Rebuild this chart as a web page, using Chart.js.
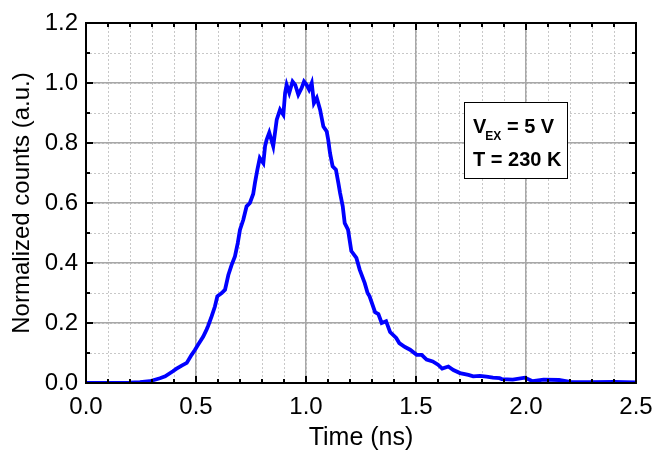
<!DOCTYPE html>
<html>
<head>
<meta charset="utf-8">
<script src="https://cdn.jsdelivr.net/npm/chart.js@4.4.1/dist/chart.umd.min.js"></script>
<style>
  html, body { margin: 0; padding: 0; background: #fff; }
  #wrap { width: 654px; height: 460px; position: relative; }
</style>
</head>
<body>
<div id="wrap"><canvas id="myChart" width="654" height="460"></canvas></div>
<script>
// data
let time_ns = [0.00, 0.10, 0.20, 0.245, 0.29, 0.336, 0.36, 0.395, 0.41, 0.435, 0.458, 0.48, 0.495, 0.51, 0.533,
  0.548, 0.555, 0.571, 0.586, 0.597, 0.617, 0.632, 0.647, 0.662, 0.677, 0.69, 0.70, 0.715, 0.73, 0.745,
  0.76, 0.768, 0.779, 0.79, 0.806, 0.814, 0.821, 0.833, 0.851, 0.867, 0.882, 0.897, 0.905, 0.912, 0.924,
  0.939, 0.951, 0.965, 0.980, 0.991, 1.003, 1.014, 1.026, 1.036, 1.049, 1.064, 1.079, 1.094, 1.101, 1.109,
  1.121, 1.136, 1.147, 1.155, 1.167, 1.176, 1.191, 1.206, 1.229, 1.244, 1.267, 1.280, 1.289, 1.314, 1.329,
  1.344, 1.364, 1.382, 1.41, 1.424, 1.45, 1.473, 1.503, 1.526, 1.548, 1.576, 1.60, 1.619, 1.647, 1.67,
  1.70, 1.738, 1.76, 1.79, 1.82, 1.85, 1.88, 1.89, 1.94, 1.995, 2.03, 2.08, 2.15, 2.20, 2.30, 2.40, 2.50];
let counts = [0.000, 0.000, 0.001, 0.003, 0.006, 0.016, 0.022, 0.039, 0.047, 0.058, 0.067, 0.094, 0.110, 0.128, 0.155,
  0.178, 0.190, 0.222, 0.255, 0.289, 0.300, 0.311, 0.360, 0.394, 0.422, 0.467, 0.511, 0.544, 0.589, 0.600,
  0.630, 0.667, 0.711, 0.750, 0.733, 0.790, 0.811, 0.835, 0.789, 0.878, 0.911, 0.894, 0.967, 0.994, 0.967,
  1.005, 0.994, 0.961, 0.983, 1.005, 0.994, 0.978, 1.000, 0.933, 0.950, 0.911, 0.855, 0.839, 0.811, 0.767,
  0.722, 0.711, 0.667, 0.633, 0.589, 0.533, 0.511, 0.440, 0.417, 0.378, 0.333, 0.300, 0.289, 0.236, 0.230,
  0.200, 0.206, 0.170, 0.150, 0.133, 0.120, 0.111, 0.094, 0.094, 0.078, 0.072, 0.061, 0.048, 0.055, 0.043,
  0.033, 0.027, 0.022, 0.024, 0.021, 0.018, 0.016, 0.013, 0.011, 0.018, 0.006, 0.011, 0.010, 0.004, 0.003, 0.004, 0.002];

let x_range = [0, 2.5];
let y_range = [0, 1.2];
let x_major_step = 0.5;
let y_major_step = 0.2;
let minor_step = 0.1;

let x_title = "Time (ns)";
let y_title = "Normalized counts (a.u.)";
let box_v = ["V", "EX", " = 5 V"];
let box_t = "T = 230 K";

let font_name = "Arial, 'Liberation Sans', sans-serif";

let points = time_ns.map((t, i) => ({ x: t, y: counts[i] }));

// inward ticks + frame + text box
let frame_plugin = {
  id: "frame",
  afterDraw(chart) {
    let ctx = chart.ctx;
    let a = chart.chartArea;
    let xs = chart.scales.x2;
    let ys = chart.scales.y2;
    ctx.save();
    ctx.strokeStyle = "#000";
    ctx.lineWidth = 2;
    ctx.beginPath();
    xs.ticks.forEach(tk => {
      let px = xs.getPixelForValue(tk.value);
      let major = Math.abs(tk.value / x_major_step - Math.round(tk.value / x_major_step)) < 1e-6;
      let len = major ? 7 : 4;
      ctx.moveTo(px, a.bottom); ctx.lineTo(px, a.bottom - len);
      ctx.moveTo(px, a.top); ctx.lineTo(px, a.top + len);
    });
    ys.ticks.forEach(tk => {
      let py = ys.getPixelForValue(tk.value);
      let major = Math.abs(tk.value / y_major_step - Math.round(tk.value / y_major_step)) < 1e-6;
      let len = major ? 7 : 4;
      ctx.moveTo(a.left, py); ctx.lineTo(a.left + len, py);
      ctx.moveTo(a.right, py); ctx.lineTo(a.right - len, py);
    });
    ctx.stroke();
    ctx.strokeRect(a.left, a.top, a.right - a.left, a.bottom - a.top);

    // label box
    let bx = 464.5, by = 102.5, bw = 103, bh = 76;
    ctx.fillStyle = "#fff";
    ctx.fillRect(bx, by, bw, bh);
    ctx.lineWidth = 1;
    ctx.strokeRect(bx, by, bw, bh);
    ctx.fillStyle = "#000";
    ctx.textBaseline = "alphabetic";
    ctx.textAlign = "left";
    ctx.font = "bold 20px " + font_name;
    let x0 = 473;
    ctx.fillText(box_v[0], x0, 133);
    let w0 = ctx.measureText(box_v[0]).width;
    ctx.font = "bold 12px " + font_name;
    ctx.fillText(box_v[1], x0 + w0 - 1, 140);
    let w1 = ctx.measureText(box_v[1]).width;
    ctx.font = "bold 20px " + font_name;
    ctx.fillText(box_v[2], x0 + w0 + w1 - 1, 133);
    ctx.fillText(box_t, x0, 166);
    ctx.restore();
  }
};

let fmt = v => Number(v).toFixed(1);

let no_pad_x = s => { s.paddingLeft = 0; s.paddingRight = 0; };
let no_pad_y = s => { s.paddingTop = 0; s.paddingBottom = 0; };

new Chart("myChart", {
  type: "line",
  data: {
    datasets: [{
      data: points,
      borderColor: "#0000ff",
      borderWidth: 3.8,
      pointRadius: 0,
      tension: 0,
      fill: false,
      xAxisID: "x",
      yAxisID: "y"
    }]
  },
  options: {
    responsive: false,
    animation: false,
    maintainAspectRatio: false,
    layout: { padding: { top: 23, right: 18, left: 0, bottom: 0 } },
    plugins: { legend: { display: false }, tooltip: { enabled: false } },
    scales: {
      x2: {
        type: "linear", position: "bottom", min: x_range[0], max: x_range[1],
        ticks: { display: false, stepSize: minor_step },
        grid: { color: "#c8c8c8", lineWidth: 1, drawTicks: false },
        border: { display: false, dash: [2, 2] },
        afterFit: s => { s.height = 0; no_pad_x(s); }
      },
      y2: {
        type: "linear", position: "left", min: y_range[0], max: y_range[1],
        ticks: { display: false, stepSize: minor_step },
        grid: { color: "#c8c8c8", lineWidth: 1, drawTicks: false },
        border: { display: false, dash: [2, 2] },
        afterFit: s => { s.width = 0; no_pad_y(s); }
      },
      x: {
        type: "linear", position: "bottom", min: x_range[0], max: x_range[1],
        ticks: { stepSize: x_major_step, color: "#000", padding: 10, maxRotation: 0,
          font: { family: font_name, size: 24 }, callback: fmt },
        grid: { color: "#a8a8a8", lineWidth: 1.5, drawTicks: false },
        border: { display: false },
        title: { display: true, text: x_title, color: "#000",
          font: { family: font_name, size: 25 }, padding: { top: 0, bottom: 7 } },
        afterFit: s => { s.height = 77; no_pad_x(s); }
      },
      y: {
        type: "linear", position: "left", min: y_range[0], max: y_range[1],
        ticks: { stepSize: y_major_step, color: "#000", padding: 8,
          font: { family: font_name, size: 24 }, callback: fmt },
        grid: { color: "#a8a8a8", lineWidth: 1.5, drawTicks: false },
        border: { display: false },
        title: { display: true, text: y_title, color: "#000",
          font: { family: font_name, size: 24 }, padding: { top: 8, bottom: 0 } },
        afterFit: s => { s.width = 86; no_pad_y(s); }
      }
    }
  },
  plugins: [frame_plugin]
});
</script>
</body>
</html>
